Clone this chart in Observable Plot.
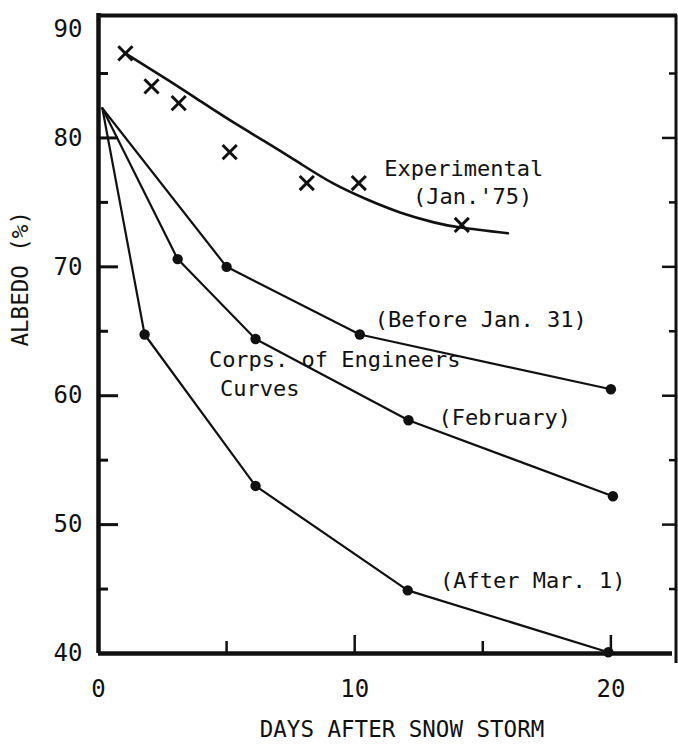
<!DOCTYPE html>
<html><head><meta charset="utf-8">
<script src="https://cdn.jsdelivr.net/npm/d3@7"></script>
<script src="https://cdn.jsdelivr.net/npm/@observablehq/plot@0.6"></script>
<style>body{margin:0;background:#fff;} #chart svg{display:block;}</style>
</head><body><div id="chart"></div>
<script>
// Experimental measurements (Jan. '75) – crosses
const expDays   = [1.05, 2.07, 3.13, 5.12, 8.13, 10.16, 14.18];
const expAlbedo = [86.56, 84.0, 82.7, 78.9, 76.5, 76.5, 73.25];
// Experimental fitted curve
const expCurveDays   = [1.05, 2.7, 3.98, 5.27, 6.6, 7.89, 9.18, 10.51, 11.8, 13.09, 14.14, 15.98];
const expCurveAlbedo = [86.56, 84.5, 82.85, 81.2, 79.6, 78.0, 76.45, 75.2, 74.2, 73.45, 73.05, 72.6];
// Corps of Engineers curves
const beforeJan31Days   = [0.15, 5.0, 10.2, 20.0];
const beforeJan31Albedo = [82.3, 70.0, 64.75, 60.5];
const februaryDays      = [0.15, 3.09, 6.13, 12.1, 20.08];
const februaryAlbedo    = [82.3, 70.6, 64.4, 58.1, 52.2];
const afterMar1Days     = [0.15, 1.8, 6.13, 12.07, 19.9];
const afterMar1Albedo   = [82.3, 64.75, 53.0, 44.9, 40.1];
// Axis ticks & labels
const xTickLabels = [0, 10, 20];
const xMajorTicks = [10, 20];
const xMinorTicks = [5, 15];
const yTickLabels = [40, 50, 60, 70, 80];
const yTopLabel = "90";
const yMajorTicks = [50, 60, 70, 80];
const yMinorTicks = [45, 55, 65, 75, 85];
const xDomain = [0, 22.6];
const yDomain = [40, 89.5];
// Annotations
const annotations = [
  {text: "Experimental", x: 14.26, y: 77.58},
  {text: "(Jan.'75)", x: 14.6, y: 75.4},
  {text: "(Before Jan. 31)", x: 14.92, y: 65.85},
  {text: "Corps. of Engineers", x: 9.22, y: 62.75},
  {text: "Curves", x: 6.29, y: 60.5},
  {text: "(February)", x: 15.86, y: 58.25},
  {text: "(After Mar. 1)", x: 16.95, y: 45.6}
];
const xTitle = "DAYS AFTER SNOW STORM";
const yTitle = "ALBEDO (%)";

const toRows = (xs, ys) => xs.map((x, i) => ({x, y: ys[i]}));
const expPts = toRows(expDays, expAlbedo);
const expCurve = toRows(expCurveDays, expCurveAlbedo);
const corps = [toRows(beforeJan31Days, beforeJan31Albedo), toRows(februaryDays, februaryAlbedo), toRows(afterMar1Days, afterMar1Albedo)];

const W = 678, H = 747, mL = 98, mR = 1, mT = 15, mB = 94;
const innerW = W - mL - mR, innerH = H - mT - mB;
const ink = "#111";
const font = "DejaVu Sans Mono";

const marks = [
  // frame
  Plot.ruleX([xDomain[0]], {stroke: ink, strokeWidth: 4.5, insetTop: -2}),
  Plot.ruleY([yDomain[1]], {stroke: ink, strokeWidth: 4}),
  Plot.ruleY([yDomain[0]], {stroke: ink, strokeWidth: 4.5, insetRight: 5}),
  Plot.ruleX([xDomain[1]], {stroke: ink, strokeWidth: 3, insetBottom: -10, dx: -1.5}),
  // left ticks
  Plot.ruleY(yMajorTicks, {stroke: ink, strokeWidth: 3, insetRight: innerW - 20}),
  Plot.ruleY(yMinorTicks, {stroke: ink, strokeWidth: 3, insetRight: innerW - 10}),
  // right ticks
  Plot.ruleY(yMajorTicks, {stroke: ink, strokeWidth: 2.5, insetLeft: innerW - 15}),
  Plot.ruleY(yMinorTicks, {stroke: ink, strokeWidth: 2.5, insetLeft: innerW - 8}),
  // bottom ticks
  Plot.ruleX(xMajorTicks, {stroke: ink, strokeWidth: 2.5, insetTop: innerH - 18}),
  Plot.ruleX(xMinorTicks, {stroke: ink, strokeWidth: 2.5, insetTop: innerH - 12}),
  // axes labels
  Plot.axisX({ticks: xTickLabels, tickSize: 0, tickPadding: 26, fontSize: 24, fill: ink, tickFormat: d => String(d), label: null}),
  Plot.axisY({ticks: yTickLabels, tickSize: 0, tickPadding: 16, fontSize: 24, fill: ink, tickFormat: d => String(d), label: null}),
  Plot.text([yTopLabel], {frameAnchor: "top-left", text: d => d, dx: -16, dy: 14, textAnchor: "end", lineAnchor: "middle", fontSize: 24, fill: ink}),
  // titles
  Plot.text([xTitle], {frameAnchor: "bottom", text: d => d, dx: 14, dy: 76, lineAnchor: "middle", fontSize: 22.5, fill: ink}),
  Plot.text([yTitle], {frameAnchor: "left", text: d => d, dx: -78, dy: 12, rotate: -90, lineAnchor: "middle", fontSize: 22.5, fill: ink}),
  // Corps curves
  ...corps.map(rows => Plot.line(rows, {x: "x", y: "y", stroke: ink, strokeWidth: 2.2})),
  ...corps.map(rows => Plot.dot(rows.slice(1), {x: "x", y: "y", r: 5.2, fill: ink, stroke: "none"})),
  // Experimental
  Plot.line(expCurve, {x: "x", y: "y", curve: "natural", stroke: ink, strokeWidth: 2.6}),
  Plot.dot(expPts, {x: "x", y: "y", symbol: "times", r: 6.5, stroke: ink, strokeWidth: 3}),
  // annotations
  Plot.text(annotations, {x: "x", y: "y", text: "text", fontSize: 22, fill: ink, lineAnchor: "middle"})
];

const chart = Plot.plot({
  width: W, height: H,
  marginLeft: mL, marginRight: mR, marginTop: mT, marginBottom: mB,
  x: {domain: xDomain, axis: null},
  y: {domain: yDomain, axis: null},
  style: {fontFamily: font, background: "#fff", color: ink, overflow: "visible"},
  marks
});
document.getElementById("chart").appendChild(chart);
</script>
</body></html>
